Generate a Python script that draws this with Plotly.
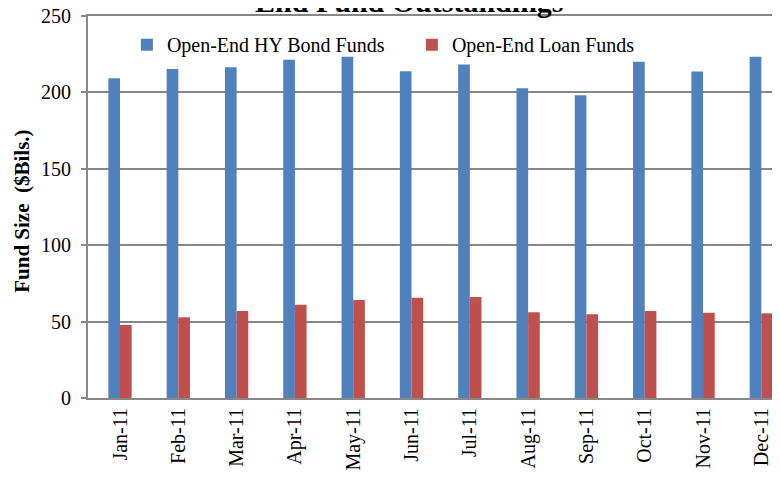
import plotly.graph_objects as go

months = ["Jan-11", "Feb-11", "Mar-11", "Apr-11", "May-11", "Jun-11",
          "Jul-11", "Aug-11", "Sep-11", "Oct-11", "Nov-11", "Dec-11"]
hy_bond = [209.2, 215.3, 216.4, 221.4, 223.4, 213.8,
           218.3, 202.7, 198.1, 220.1, 213.6, 223.4]
loan = [47.8, 52.8, 56.9, 61.1, 64.1, 65.6,
        66.1, 56.1, 54.8, 56.9, 55.8, 55.4]

FONT = "Liberation Serif, Times New Roman, serif"
GRID = "#878787"

fig = go.Figure()
fig.add_trace(go.Bar(x=months, y=hy_bond, name="Open-End HY Bond Funds",
                     marker=dict(color="#4F81BD", line=dict(width=0))))
fig.add_trace(go.Bar(x=months, y=loan, name="Open-End Loan Funds",
                     marker=dict(color="#C0504D", line=dict(width=0))))

fig.update_layout(
    width=780, height=478,
    margin=dict(l=80, r=8, t=8, b=88, autoexpand=False),
    paper_bgcolor="white", plot_bgcolor="white",
    font=dict(family=FONT, size=20, color="black"),
    barmode="group", bargap=0.6, bargroupgap=0,
    showlegend=True,
    legend=dict(orientation="h", x=0.0562, y=0.976, xanchor="left", yanchor="top",
                font=dict(size=20, family=FONT), bgcolor="rgba(0,0,0,0)",
                entrywidth=240, entrywidthmode="pixels", itemwidth=30),
    xaxis=dict(type="category", range=[-0.549, 11.32], showline=True, mirror=True,
               linecolor=GRID, linewidth=2,
               ticks="", tickangle=-90, ticklabelstandoff=0, showgrid=False,
               tickfont=dict(size=20, family=FONT)),
    yaxis=dict(range=[0, 250], dtick=50, showline=True, linecolor=GRID, linewidth=2,
               ticks="outside", ticklen=5, tickcolor=GRID, tickwidth=2,
               showgrid=True, gridcolor=GRID, gridwidth=1.5, zeroline=False,
               ticklabeloverflow="allow",
               ticklabelstandoff=6, tickfont=dict(size=20, family=FONT)),
    annotations=[
        dict(text="<b>Fund Size&nbsp; ($Bils.)</b>", textangle=-90,
             xref="paper", yref="paper", x=-0.0954, y=0.49,
             xanchor="center", yanchor="middle", showarrow=False,
             font=dict(size=21, family=FONT, color="black")),
        dict(text="<b>End Fund Outstandings</b>",
             xref="paper", yref="paper", x=0.465, y=1.038,
             xanchor="center", yanchor="middle", showarrow=False,
             font=dict(size=30, family=FONT, color="black")),
    ],
)

fig.write_html("out.html")
